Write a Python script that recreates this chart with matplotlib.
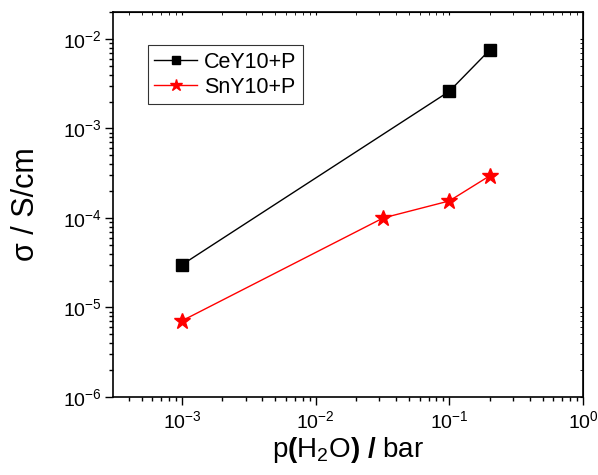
import matplotlib.pyplot as plt
from matplotlib.ticker import LogLocator, NullFormatter

plt.rcParams['font.family'] = ['Liberation Sans', 'DejaVu Sans']
plt.rcParams['mathtext.fontset'] = 'custom'
plt.rcParams['mathtext.rm'] = 'Liberation Sans'
plt.rcParams['mathtext.it'] = 'Liberation Sans:italic'
plt.rcParams['mathtext.bf'] = 'Liberation Sans:bold'

# conductivity vs water partial pressure
p_ce = [1e-3, 0.1, 0.2]
sigma_ce = [3.0e-5, 2.6e-3, 7.5e-3]

p_sn = [1e-3, 0.032, 0.1, 0.2]
sigma_sn = [7.1e-6, 1.0e-4, 1.55e-4, 2.95e-4]

fig = plt.figure(figsize=(5.98, 4.75), dpi=100)
ax = fig.add_axes([113 / 598, 1 - 397 / 475, 470 / 598, 385 / 475])

ax.plot(p_ce, sigma_ce, color='black', marker='s', markersize=8, lw=1, label='CeY10+P')
ax.plot(p_sn, sigma_sn, color='red', marker='*', markersize=12, lw=1, label='SnY10+P')

ax.set_xscale('log')
ax.set_yscale('log')
ax.set_xlim(3.05e-4, 1)
ax.set_ylim(1e-6, 2e-2)

for a in (ax.xaxis, ax.yaxis):
    a.set_major_locator(LogLocator(base=10, numticks=10))
    a.set_minor_locator(LogLocator(base=10, subs=range(2, 10), numticks=10))
    a.set_minor_formatter(NullFormatter())

ax.tick_params(which='both', direction='out', top=False, right=False, labelsize=14, width=1)
ax.tick_params(which='major', length=6)
ax.tick_params(which='minor', length=3)
ax.tick_params(axis='y', pad=2)

# small inner ticks on top and right
sec_x = ax.secondary_xaxis('top')
sec_x.set_xscale('log')
sec_y = ax.secondary_yaxis('right')
sec_y.set_yscale('log')
for s, a in ((sec_x, sec_x.xaxis), (sec_y, sec_y.yaxis)):
    a.set_major_locator(LogLocator(base=10, numticks=10))
    a.set_minor_locator(LogLocator(base=10, subs=range(2, 10), numticks=10))
    a.set_minor_formatter(NullFormatter())
    s.tick_params(which='both', direction='in', length=2, labeltop=False, labelright=False)
    a.set_major_formatter(NullFormatter())

for sp in ax.spines.values():
    sp.set_linewidth(1.2)

ax.set_xlabel(r'p$\mathbf{(}$H$_2$O$\mathbf{)}$ $\mathbf{/}$ bar', fontsize=20, labelpad=2)
ax.set_ylabel('σ / S/cm', fontsize=22, labelpad=16)

leg = ax.legend(loc='upper left', bbox_to_anchor=(0.074, 0.914), fontsize=15.5,
                frameon=True, fancybox=False, edgecolor='black', handlelength=2.0,
                borderpad=0.3, labelspacing=0.2, handletextpad=0.3, markerscale=0.75,
                borderaxespad=0)
leg.get_frame().set_linewidth(0.8)

fig.savefig('out.png', dpi=100)
